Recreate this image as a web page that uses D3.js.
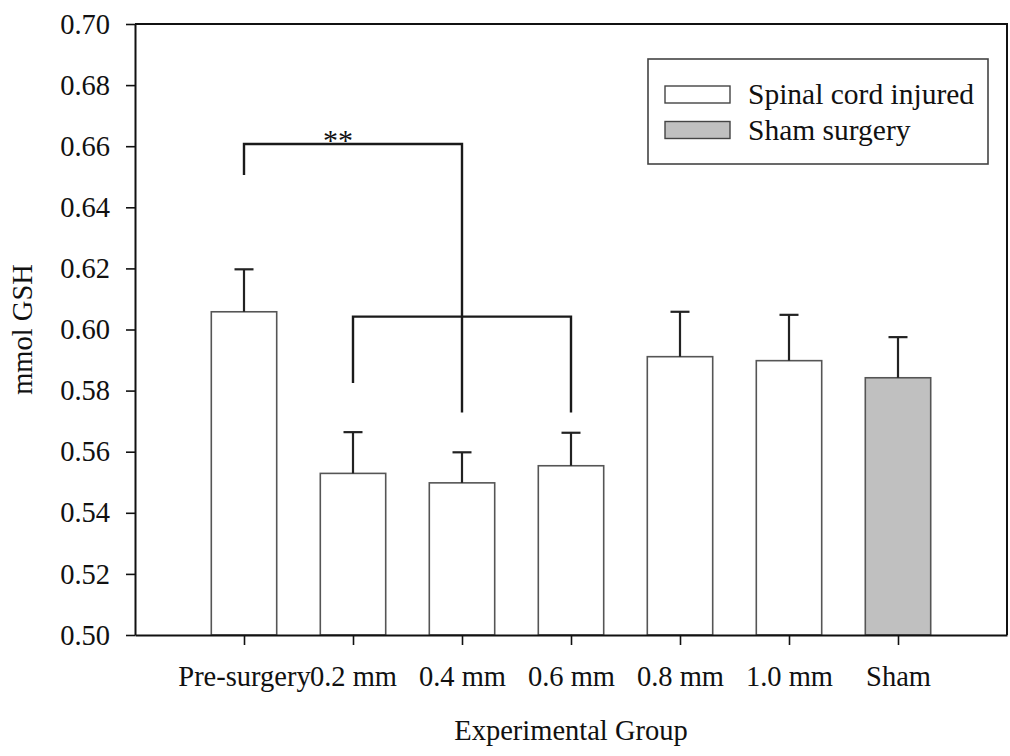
<!DOCTYPE html>
<html>
<head>
<meta charset="utf-8">
<script src="https://cdn.jsdelivr.net/npm/d3@7"></script>
<style>
  html, body { margin: 0; padding: 0; background: #fff; }
  svg { display: block; }
  text { font-family: "Liberation Serif", "Times New Roman", serif; fill: #111; }
</style>
</head>
<body>
<svg id="chart" width="1010" height="756"></svg>
<script>
// GSH content by experimental group (mean and standard error)
const groups = ["Pre-surgery", "0.2 mm", "0.4 mm", "0.6 mm", "0.8 mm", "1.0 mm", "Sham"];
const means  = [0.6058, 0.5529, 0.5498, 0.5554, 0.5911, 0.5898, 0.5842];
const errors = [0.0139, 0.0135, 0.0100, 0.0108, 0.0147, 0.0150, 0.0133];
const series = ["Spinal cord injured", "Spinal cord injured", "Spinal cord injured",
                "Spinal cord injured", "Spinal cord injured", "Spinal cord injured", "Sham surgery"];
const legendLabels = ["Spinal cord injured", "Sham surgery"];
const yTicks = [0.50, 0.52, 0.54, 0.56, 0.58, 0.60, 0.62, 0.64, 0.66, 0.68, 0.70];

// Significance brackets: horizontal level and where each leg ends
const brackets = [
  { from: "Pre-surgery", to: "0.4 mm", level: 0.6607, fromEnd: 0.6506, toEnd: 0.5728, label: "**" },
  { from: "0.2 mm", to: "0.6 mm", level: 0.6042, fromEnd: 0.5825, toEnd: 0.5728, label: "" }
];

const width = 1010, height = 756;
const margin = { top: 24, right: 3, bottom: 121, left: 135 };
const innerW = width - margin.left - margin.right;
const innerH = height - margin.top - margin.bottom;

const svg = d3.select("#chart");
const g = svg.append("g").attr("transform", `translate(${margin.left},${margin.top})`);

const x = d3.scalePoint().domain(groups).range([0, innerW]).padding(1);
const y = d3.scaleLinear().domain([0.50, 0.70]).range([innerH, 0]);
const color = d3.scaleOrdinal().domain(legendLabels).range(["#ffffff", "#c0c0c0"]);

const barW = x.step() * 0.6;
const capW = 19;
const fontSize = 28.5;

// Bars
g.selectAll("rect.bar")
  .data(groups)
  .join("rect")
  .attr("class", "bar")
  .attr("x", d => x(d) - barW / 2)
  .attr("y", (d, i) => y(means[i]))
  .attr("width", barW)
  .attr("height", (d, i) => y(0.50) - y(means[i]))
  .attr("fill", (d, i) => color(series[i]))
  .attr("stroke", "#555")
  .attr("stroke-width", 1.6);

// Upper error bars
const eb = g.selectAll("g.err").data(groups).join("g").attr("class", "err")
  .attr("stroke", "#222").attr("stroke-width", 2.2);
eb.append("line")
  .attr("x1", d => x(d)).attr("x2", d => x(d))
  .attr("y1", (d, i) => y(means[i]))
  .attr("y2", (d, i) => y(means[i] + errors[i]));
eb.append("line")
  .attr("x1", d => x(d) - capW / 2).attr("x2", d => x(d) + capW / 2)
  .attr("y1", (d, i) => y(means[i] + errors[i]))
  .attr("y2", (d, i) => y(means[i] + errors[i]));

// Y axis
const yAxis = g.append("g")
  .call(d3.axisLeft(y).tickValues(yTicks).tickFormat(d3.format(".2f")).tickSize(9).tickSizeOuter(0).tickPadding(16));
yAxis.select(".domain").attr("stroke", "#111").attr("stroke-width", 2);
yAxis.selectAll(".tick line").attr("stroke", "#111").attr("stroke-width", 1.6);
yAxis.selectAll(".tick text").attr("font-size", fontSize).attr("font-family", "Liberation Serif").attr("fill", "#111");

// X axis
const xAxis = g.append("g")
  .attr("transform", `translate(0,${innerH})`)
  .call(d3.axisBottom(x).tickSize(10).tickSizeOuter(0));
xAxis.select(".domain").attr("stroke", "#111").attr("stroke-width", 2);
xAxis.selectAll(".tick line").attr("stroke", "#111").attr("stroke-width", 1.6);
xAxis.selectAll(".tick text")
  .attr("font-size", fontSize).attr("font-family", "Liberation Serif").attr("fill", "#111")
  .attr("y", 51).attr("dy", 0);

// Top and right frame lines
g.append("path")
  .attr("d", `M0,0H${innerW}V${innerH}`)
  .attr("fill", "none").attr("stroke", "#111").attr("stroke-width", 2);

// Significance brackets
brackets.forEach(b => {
  const x1 = x(b.from), x2 = x(b.to);
  g.append("path")
    .attr("d", `M${x1},${y(b.fromEnd)}V${y(b.level)}H${x2}V${y(b.toEnd)}`)
    .attr("fill", "none").attr("stroke", "#1a1a1a").attr("stroke-width", 2.4);
  if (b.label) {
    g.append("text")
      .attr("x", (x1 + x2) / 2 - 15)
      .attr("y", y(b.level) + 6)
      .attr("text-anchor", "middle")
      .attr("font-size", 30)
      .text(b.label);
  }
});

// Axis titles
svg.append("text")
  .attr("x", margin.left + innerW / 2)
  .attr("y", 740)
  .attr("text-anchor", "middle")
  .attr("font-size", fontSize)
  .text("Experimental Group");

svg.append("text")
  .attr("transform", `translate(32,${margin.top + innerH / 2}) rotate(-90)`)
  .attr("text-anchor", "middle")
  .attr("font-size", fontSize)
  .text("mmol GSH");

// Legend
const legend = svg.append("g").attr("transform", "translate(648,59)");
legend.append("rect")
  .attr("width", 340).attr("height", 105)
  .attr("fill", "#fff").attr("stroke", "#444").attr("stroke-width", 1.6);
const items = legend.selectAll("g.item").data(legendLabels).join("g").attr("class", "item")
  .attr("transform", (d, i) => `translate(17,${27 + i * 35.5})`);
items.append("rect")
  .attr("width", 65).attr("height", 17)
  .attr("fill", d => color(d)).attr("stroke", "#444").attr("stroke-width", 1.4);
items.append("text")
  .attr("x", 83).attr("y", 18)
  .attr("font-size", 29.5)
  .text(d => d);
</script>
</body>
</html>
